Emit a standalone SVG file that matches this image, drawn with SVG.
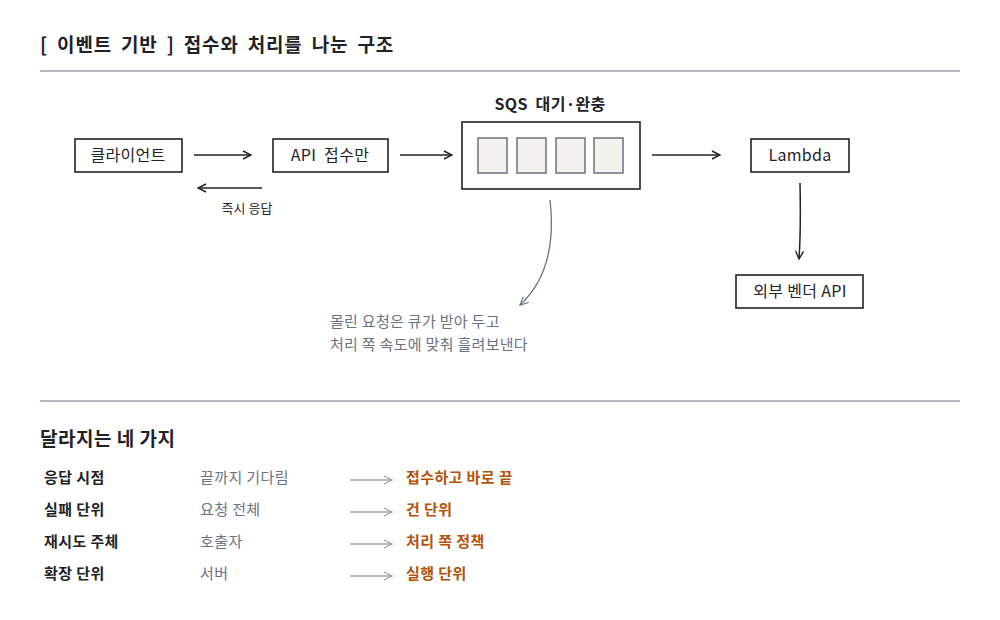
<svg xmlns="http://www.w3.org/2000/svg" width="1000" height="620" viewBox="0 0 1000 620">
<defs>
<marker id="ah" markerWidth="10" markerHeight="10" refX="9" refY="5" orient="auto" markerUnits="userSpaceOnUse"><path d="M1,1 L9,5 L1,9" fill="none" stroke="#1f2328" stroke-width="1.4"/></marker>
<marker id="ag" markerWidth="10" markerHeight="10" refX="9" refY="5" orient="auto" markerUnits="userSpaceOnUse"><path d="M1,1 L9,5 L1,9" fill="none" stroke="#6b7280" stroke-width="1.2"/></marker>
<marker id="al" markerWidth="10" markerHeight="10" refX="9" refY="5" orient="auto" markerUnits="userSpaceOnUse"><path d="M1,1 L9,5 L1,9" fill="none" stroke="#9aa3af" stroke-width="1.2"/></marker>
</defs>
<style>
text{font-family:"Noto Sans CJK KR","Noto Sans",sans-serif;}
.box{fill:#fff;stroke:#1f2328;stroke-width:1.6}
.t{font-size:16px;fill:#1f2328;text-anchor:middle;letter-spacing:0.3px}
.cell{fill:#f3f1ee;stroke:#6b7280;stroke-width:1.5}
.ln{stroke:#1f2328;stroke-width:1.5;fill:none}
.rl{font-size:15px;fill:#1f2328;font-weight:bold;letter-spacing:0.4px}
.rm{font-size:15px;fill:#6b7280;letter-spacing:0.4px}
.rr{font-size:15px;fill:#b45309;font-weight:bold;letter-spacing:0.4px}
.sep{stroke:#9aa3af;stroke-width:1.3}
</style>
<rect width="1000" height="620" fill="#fff"/>
<text x="40" y="52" font-size="19" font-weight="bold" fill="#1f2328" letter-spacing="0.8" word-spacing="4">[ 이벤트 기반 ]  접수와 처리를 나눈 구조</text>
<line class="sep" x1="40" y1="71" x2="960" y2="71"/>
<g id="client"><rect class="box" x="75" y="139" width="107" height="33"/><text class="t" x="128" y="161">클라이언트</text></g>
<g id="api"><rect class="box" x="273" y="139" width="115" height="33"/><text class="t" x="330" y="161" word-spacing="4">API 접수만</text></g>
<g id="sqs"><text class="t" x="550" y="110" font-weight="bold" word-spacing="4">SQS 대기·완충</text>
<rect class="box" x="462" y="122" width="178" height="67"/>
<rect class="cell" x="478" y="138" width="29" height="35"/><rect class="cell" x="517" y="138" width="29" height="35"/><rect class="cell" x="556" y="138" width="29" height="35"/><rect class="cell" x="594" y="138" width="29" height="35"/></g>
<g id="lambda"><rect class="box" x="751" y="139" width="98" height="33"/><text class="t" x="800" y="161">Lambda</text></g>
<g id="vendor"><rect class="box" x="736" y="275" width="127" height="33"/><text class="t" x="800" y="297">외부 벤더 API</text></g>
<g id="connectors">
<line class="ln" x1="194" y1="155" x2="251" y2="155" marker-end="url(#ah)"/>
<line class="ln" x1="400" y1="155" x2="452" y2="155" marker-end="url(#ah)"/>
<line class="ln" x1="652" y1="155" x2="720" y2="155" marker-end="url(#ah)"/>
<line class="ln" x1="262" y1="188" x2="198" y2="188" marker-end="url(#ah)"/>
<text x="247" y="213" font-size="13" fill="#1f2328" text-anchor="middle">즉시 응답</text>
<path class="ln" d="M800,183 Q801,230 799,259" marker-end="url(#ah)"/>
<path d="M550,200 Q558,270 520,305" fill="none" stroke="#6b7280" stroke-width="1.3" marker-end="url(#ag)"/>
</g>
<text x="330" y="327" font-size="15" fill="#6b7280" letter-spacing="0.3">몰린 요청은 큐가 받아 두고</text>
<text x="330" y="350" font-size="15" fill="#6b7280" letter-spacing="0.3">처리 쪽 속도에 맞춰 흘려보낸다</text>
<line class="sep" x1="40" y1="401" x2="960" y2="401"/>
<text x="40" y="446" font-size="19" font-weight="bold" fill="#1f2328" letter-spacing="0.5">달라지는 네 가지</text>
<g>
<text class="rl" x="44" y="483">응답 시점</text><text class="rm" x="200" y="483">끝까지 기다림</text><line x1="350" y1="480" x2="392" y2="480" stroke="#9aa3af" stroke-width="1.3" marker-end="url(#al)"/><text class="rr" x="406" y="483">접수하고 바로 끝</text>
<text class="rl" x="44" y="515">실패 단위</text><text class="rm" x="200" y="515">요청 전체</text><line x1="350" y1="512" x2="392" y2="512" stroke="#9aa3af" stroke-width="1.3" marker-end="url(#al)"/><text class="rr" x="406" y="515">건 단위</text>
<text class="rl" x="44" y="547">재시도 주체</text><text class="rm" x="200" y="547">호출자</text><line x1="350" y1="544" x2="392" y2="544" stroke="#9aa3af" stroke-width="1.3" marker-end="url(#al)"/><text class="rr" x="406" y="547">처리 쪽 정책</text>
<text class="rl" x="44" y="579">확장 단위</text><text class="rm" x="200" y="579">서버</text><line x1="350" y1="576" x2="392" y2="576" stroke="#9aa3af" stroke-width="1.3" marker-end="url(#al)"/><text class="rr" x="406" y="579">실행 단위</text>
</g>
</svg>
